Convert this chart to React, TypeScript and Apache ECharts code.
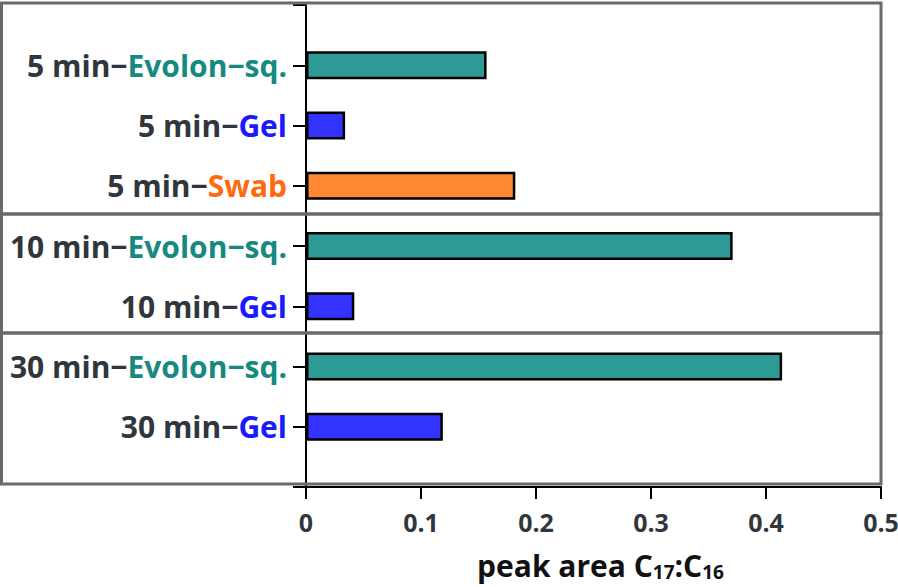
import React, { useEffect, useRef } from "react";
import * as echarts from "echarts";

const times = ["5 min", "5 min", "5 min", "10 min", "10 min", "30 min", "30 min"];
const methods = ["Evolon−sq.", "Gel", "Swab", "Evolon−sq.", "Gel", "Evolon−sq.", "Gel"];
const values = [0.157, 0.034, 0.182, 0.371, 0.042, 0.414, 0.119];
const xTicks = [0, 0.1, 0.2, 0.3, 0.4, 0.5];

const barColors: Record<string, string> = {
  "Evolon−sq.": "#2e9a96",
  Gel: "#3333ff",
  Swab: "#ff8833",
};
const textColors: Record<string, string> = {
  "Evolon−sq.": "#168a80",
  Gel: "#1a1aff",
  Swab: "#ff6a10",
};
const richKey: Record<string, string> = {
  "Evolon−sq.": "ev",
  Gel: "gel",
  Swab: "swab",
};

const FONT = "'Open Sans', 'Noto Sans', sans-serif";
const DARK = "#30363b";
const LABEL_SIZE = 30;

export default function App() {
  const ref = useRef<HTMLDivElement>(null);
  useEffect(() => {
    if (!ref.current) return;
    const chart = echarts.init(ref.current, null, { renderer: "svg" });
    const cats = ["", ...times.map((t, i) => `${t}−${methods[i]}`), ""];
    const data: any[] = [
      null,
      ...values.map((v, i) => ({
        value: v,
        itemStyle: { color: barColors[methods[i]] },
      })),
      null,
    ];
    const labelRich: any = {
      t: { color: DARK, fontSize: LABEL_SIZE, fontWeight: "bold", fontFamily: FONT },
    };
    Object.keys(richKey).forEach((m) => {
      labelRich[richKey[m]] = {
        color: textColors[m],
        fontSize: LABEL_SIZE,
        fontWeight: "bold",
        fontFamily: FONT,
      };
    });
    chart.setOption({
      animation: false,
      backgroundColor: "#ffffff",
      grid: { left: 306, right: 17, top: 5, bottom: 100, containLabel: false, outerBoundsMode: "none" },
      xAxis: {
        type: "value",
        min: xTicks[0],
        max: xTicks[xTicks.length - 1],
        interval: 0.1,
        splitLine: { show: false },
        axisLine: { show: true, lineStyle: { color: "#000", width: 2 } },
        axisTick: { show: true, length: 12, lineStyle: { color: "#000", width: 2 } },
        axisLabel: {
          margin: 22,
          color: DARK,
          fontSize: 25,
          fontWeight: "bold",
          fontFamily: FONT,
        },
        name: "{a|peak area C}{s|17}{a|:C}{s|16}",
        nameLocation: "middle",
        nameGap: 63,
        nameTextStyle: {
          padding: [0, 0, 0, 14],
          rich: {
            a: { fontSize: 30, fontWeight: "bold", color: "#111", fontFamily: FONT, lineHeight: 31 },
            s: { fontSize: 19, fontWeight: "bold", color: "#111", fontFamily: FONT, lineHeight: 19, verticalAlign: "bottom" },
          },
        },
      },
      yAxis: {
        type: "category",
        inverse: true,
        boundaryGap: false,
        data: cats,
        axisLine: { show: true, lineStyle: { color: "#000", width: 2 } },
        axisTick: { show: true, length: 13, interval: 0, lineStyle: { color: "#000", width: 2 } },
        axisLabel: {
          interval: 0,
          margin: 19,
          formatter: (v: string) => {
            if (!v) return "";
            const idx = v.indexOf("−");
            const t = v.slice(0, idx + 1);
            const m = v.slice(idx + 1);
            return `{t|${t}}{${richKey[m]}|${m}}`;
          },
          rich: labelRich,
        },
        splitLine: { show: false },
      },
      series: [
        {
          type: "bar",
          data,
          barWidth: 28,
          itemStyle: { borderColor: "#000", borderWidth: 2.5 },
        },
      ],
      graphic: [
        { type: "rect", z: 50, shape: { x: 1.5, y: 3, width: 879.5, height: 211 }, style: { fill: "none", stroke: "#6a6a6a", lineWidth: 3 } },
        { type: "rect", z: 50, shape: { x: 1.5, y: 214, width: 879.5, height: 119 }, style: { fill: "none", stroke: "#6a6a6a", lineWidth: 3 } },
        { type: "rect", z: 50, shape: { x: 1.5, y: 333, width: 879.5, height: 151 }, style: { fill: "none", stroke: "#6a6a6a", lineWidth: 3 } },
      ],
    });
    return () => chart.dispose();
  }, []);
  return <div ref={ref} style={{ width: 898, height: 587, position: "absolute", left: 0, top: 0 }} />;
}
